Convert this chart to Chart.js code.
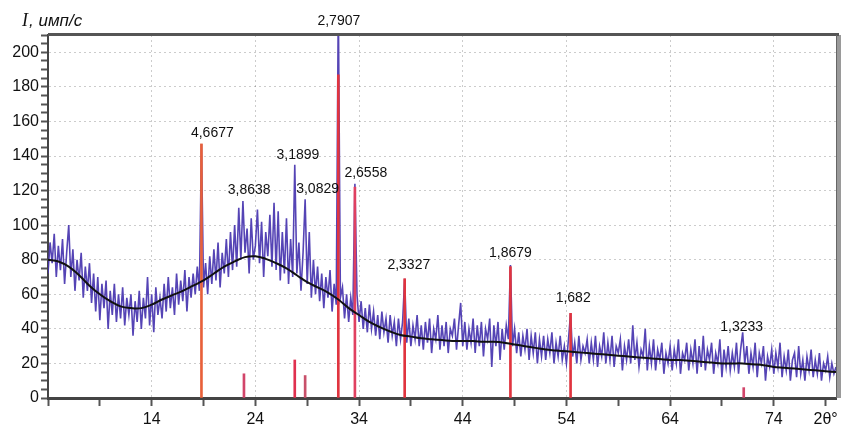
<!DOCTYPE html>
<html>
<head>
<meta charset="utf-8">
<script src="https://cdn.jsdelivr.net/npm/chart.js@4.4.1/dist/chart.umd.min.js"></script>
<style>
html,body{margin:0;padding:0;background:#fff;}
#wrap{width:857px;height:432px;position:relative;}
</style>
</head>
<body>
<div id="wrap"><canvas id="c" width="857" height="432"></canvas></div>
<script>
// ---- data ----
const TWO_THETA_START = 4;     // first measured angle, degrees
const TWO_THETA_STEP = 0.2;    // measurement step, degrees
const intensity = [
  72, 90, 78, 95, 70, 88, 74, 92, 66, 84,
  100, 70, 86, 62, 80, 68, 84, 58, 76, 62,
  78, 55, 72, 50, 70, 45, 66, 52, 68, 40,
  62, 48, 66, 44, 60, 46, 64, 42, 58, 48,
  60, 36, 56, 44, 62, 40, 58, 46, 70, 42,
  60, 38, 64, 48, 58, 46, 66, 50, 70, 52,
  64, 48, 72, 54, 68, 56, 74, 50, 70, 58,
  72, 60, 76, 62, 147, 64, 78, 60, 82, 66,
  86, 68, 90, 64, 84, 72, 92, 70, 96, 74,
  100, 76, 110, 80, 114, 84, 98, 72, 104, 80,
  88, 109, 78, 102, 70, 96, 82, 106, 76, 113,
  74, 108, 68, 96, 72, 104, 66, 92, 70, 135,
  72, 90, 62, 84, 115, 66, 96, 58, 80, 60,
  76, 56, 72, 52, 70, 58, 74, 50, 66, 54,
  230, 58, 64, 46, 60, 44, 58, 48, 124, 60,
  44, 56, 40, 52, 38, 54, 40, 50, 36, 48,
  34, 50, 38, 46, 32, 48, 36, 44, 30, 46,
  34, 44, 69, 32, 46, 30, 42, 34, 48, 30,
  42, 28, 44, 32, 46, 26, 40, 34, 48, 28,
  42, 30, 44, 26, 40, 36, 46, 28, 42, 55,
  30, 44, 28, 40, 32, 46, 26, 42, 30, 44,
  24, 40, 34, 46, 18, 42, 30, 44, 22, 40,
  28, 42, 34, 77, 30, 40, 26, 38, 24, 36,
  28, 40, 22, 36, 26, 38, 20, 34, 24, 36,
  22, 34, 26, 38, 20, 32, 24, 36, 22, 30,
  20, 34, 49, 24, 32, 20, 36, 22, 30, 26,
  34, 20, 32, 22, 36, 18, 30, 24, 38, 20,
  32, 22, 36, 18, 30, 26, 34, 16, 30, 22,
  34, 20, 42, 22, 32, 18, 28, 24, 40, 16,
  30, 20, 34, 16, 28, 22, 32, 14, 26, 20,
  30, 16, 28, 20, 34, 14, 26, 22, 32, 16,
  28, 20, 34, 14, 30, 18, 36, 16, 28, 22,
  32, 14, 26, 20, 34, 12, 28, 18, 30, 16,
  26, 18, 32, 14, 28, 38, 20, 30, 14, 26,
  18, 32, 12, 26, 20, 30, 10, 24, 18, 28,
  14, 26, 18, 32, 12, 24, 16, 28, 10, 22,
  26, 12, 30, 14, 22, 10, 24, 16, 28, 12,
  22, 14, 26, 10, 20, 16, 24, 12, 20, 14,
  18
];
// smooth background, one value per degree from 4 to 80
const BACKGROUND_START = 4;
const background = [
  80, 79, 76, 71, 65, 60, 56, 53, 52, 52,
  54, 57, 59.5, 62, 65, 68, 72, 76, 79, 81.5,
  82, 80.5, 78, 75, 71, 67, 64, 61, 57, 52,
  48, 44, 41, 38.5, 36.5, 35.5, 34.5, 34, 33.5, 33,
  33, 33, 32.5, 32.5, 32, 31, 30, 29, 28, 27.5,
  27, 26.5, 26, 25.5, 25, 24.5, 24, 23.5, 23, 22.5,
  22, 22, 21.5, 21, 20.5, 20, 20, 20, 19.5, 19,
  18, 17.5, 17, 16.5, 16, 15.5, 15
];
// reference line pattern (red sticks)
const stickTheta  = [18.8, 22.9, 27.8, 28.8, 32.0, 33.6, 38.4, 48.6, 54.4, 71.1];
const stickHeight = [147, 14, 22, 13, 187, 122, 69, 76, 49, 6];
// d-spacing labels
const peakLabels = ['4,6677', '3,8638', '3,1899', '3,0829', '2,7907', '2,6558', '2,3327', '1,8679', '1,682', '1,3233'];
const labelTheta = [19.85, 23.4, 28.1, 30.0, 32.05, 34.65, 38.8, 48.6, 54.65, 70.9];
const labelY     = [153, 120, 140.5, 121, 218, 130, 77, 84, 58, 41];
// axis ticks
const xTickValues = [4, 9, 14, 19, 24, 29, 34, 39, 44, 49, 54, 59, 64, 69, 74, 79];
const xTickLabels = [14, 24, 34, 44, 54, 64, 74];
const xAxisName = '2θ°';
const xAxisNameAt = 79;
const yLabelMajor = 20;

// ---- build datasets ----
const measured = intensity.map((v, i) => ({x: +(TWO_THETA_START + i * TWO_THETA_STEP).toFixed(1), y: v}));
const bg = background.map((v, i) => ({x: BACKGROUND_START + i, y: v}));
const sticks = stickTheta.map((x, i) => ({x: x, y: stickHeight[i]}));

const frameAndText = {
  id: 'frameAndText',
  afterDraw(chart) {
    const {ctx, chartArea: a, scales} = chart;
    ctx.save();
    // frame top & right (with shadow)
    ctx.fillStyle = '#9a9a9a';
    ctx.fillRect(a.right + 1, a.top, 4, a.bottom - a.top);
    ctx.strokeStyle = '#555';
    ctx.lineWidth = 3;
    ctx.beginPath();
    ctx.moveTo(a.left, a.top - 0.5);
    ctx.lineTo(a.right + 3, a.top - 0.5);
    ctx.stroke();
    ctx.lineWidth = 1;
    ctx.strokeStyle = '#666';
    ctx.beginPath();
    ctx.moveTo(a.right + 0.5, a.top);
    ctx.lineTo(a.right + 0.5, a.bottom);
    ctx.stroke();
    // peak labels
    ctx.fillStyle = '#111';
    ctx.font = '14px "Liberation Sans", Arial, sans-serif';
    ctx.textAlign = 'center';
    ctx.textBaseline = 'middle';
    peakLabels.forEach((t, i) => {
      ctx.fillText(t, scales.x.getPixelForValue(labelTheta[i]), scales.y.getPixelForValue(labelY[i]));
    });
    // y axis title
    ctx.textAlign = 'left';
    ctx.textBaseline = 'alphabetic';
    ctx.font = 'italic 18px "Liberation Serif", serif';
    ctx.fillText('I', 22, 26);
    const w = ctx.measureText('I').width;
    ctx.font = 'italic 17px "Liberation Sans", Arial, sans-serif';
    ctx.fillText(', имп/с', 22 + w + 1, 26);
    ctx.restore();
  }
};

new Chart(document.getElementById('c'), {
  type: 'line',
  data: {
    datasets: [
      {
        label: 'background',
        data: bg,
        borderColor: '#111',
        borderWidth: 2,
        pointRadius: 0,
        tension: 0.4,
        fill: false
      },
      {
        type: 'bar',
        label: 'reference',
        data: sticks,
        backgroundColor: ['#e8603a', '#d2456a', '#e0304f', '#c8506a', '#e0343f', '#e04060', '#e0343f', '#e0343f', '#e0343f', '#d2456a'],
        borderWidth: 0,
        barThickness: 2,
        grouped: false
      },
      {
        label: 'measured',
        data: measured,
        borderColor: 'rgba(70,52,175,0.92)',
        borderWidth: 1.6,
        pointRadius: 0,
        tension: 0,
        fill: false
      }
    ]
  },
  options: {
    responsive: false,
    animation: false,
    devicePixelRatio: 1,
    layout: {padding: {top: 35, right: 21, left: 0, bottom: 0}},
    plugins: {legend: {display: false}, tooltip: {enabled: false}},
    scales: {
      x: {
        type: 'linear',
        min: 4,
        max: 80,
        offset: false,
        afterBuildTicks(s) { s.ticks = xTickValues.map(v => ({value: v})); },
        afterFit(s) { s.height = 34; },
        ticks: {
          autoSkip: false,
          maxRotation: 0,
          padding: 4,
          color: '#111',
          font: {size: 16, family: '"Liberation Sans", Arial, sans-serif'},
          callback(v) {
            if (xTickLabels.includes(v)) return String(v);
            if (v === xAxisNameAt) return xAxisName;
            return '';
          }
        },
        grid: {
          offset: false,
          color(ctx) { return ctx.tick && xTickLabels.includes(ctx.tick.value) ? 'rgba(0,0,0,0.2)' : 'rgba(0,0,0,0)'; },
          lineWidth: 1,
          tickColor: '#555',
          tickWidth: 2,
          tickLength: 8,
          tickBorderDash: []
        },
        border: {display: true, color: '#444', width: 3, dash: [2, 3]}
      },
      y: {
        type: 'linear',
        min: 0,
        max: 210,
        afterFit(s) { s.width = 48; },
        ticks: {
          stepSize: 5,
          autoSkip: false,
          padding: 2,
          color: '#111',
          font: {size: 16, family: '"Liberation Sans", Arial, sans-serif'},
          callback(v) { return v % yLabelMajor === 0 ? String(v) : ''; }
        },
        grid: {
          offset: false,
          color(ctx) { return ctx.tick && ctx.tick.value % yLabelMajor === 0 && ctx.tick.value > 0 ? 'rgba(0,0,0,0.2)' : 'rgba(0,0,0,0)'; },
          lineWidth: 1,
          tickColor: '#555',
          tickWidth: 2,
          tickLength: 7,
          tickBorderDash: []
        },
        border: {display: true, color: '#444', width: 2, dash: [2, 3]}
      }
    }
  },
  plugins: [frameAndText]
});
</script>
</body>
</html>
